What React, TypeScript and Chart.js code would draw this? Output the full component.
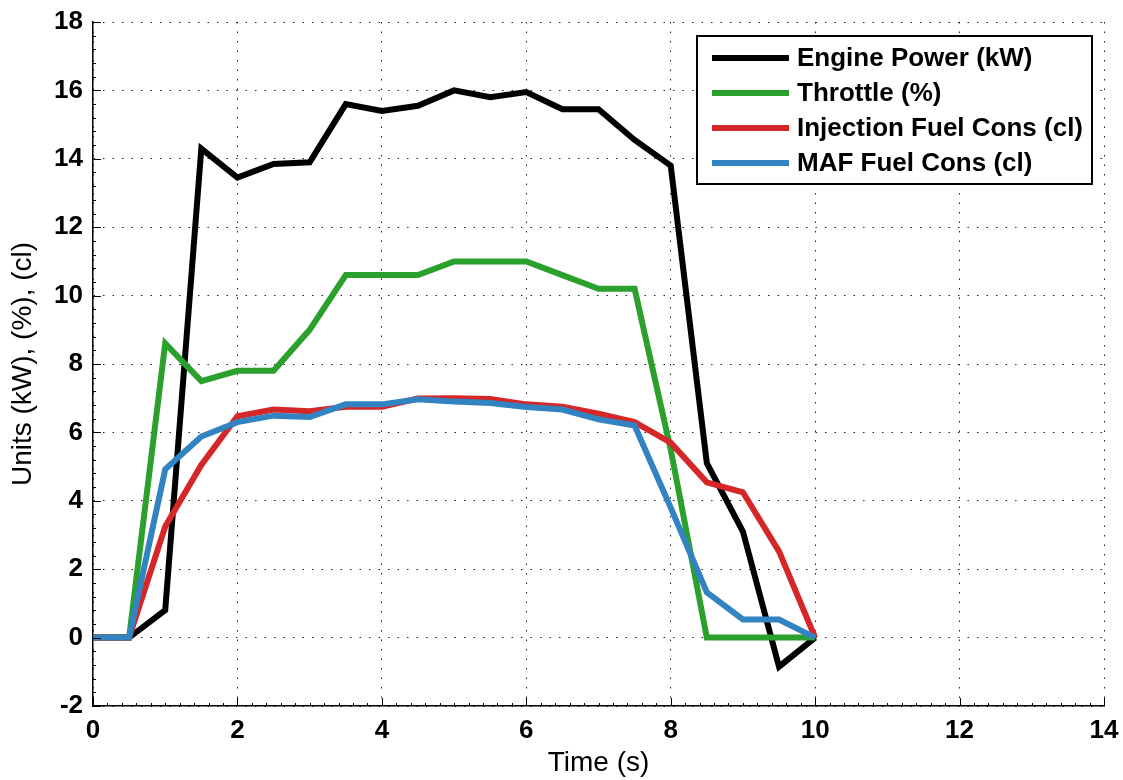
import React, { useEffect, useRef } from "react";
import Chart from "chart.js/auto";

// Sample times (s)
const timeS = [0, 0.5, 1, 1.5, 2, 2.5, 3, 3.5, 4, 4.5, 5, 5.5, 6, 6.5, 7, 7.5, 8, 8.5, 9, 9.5, 10];

// Series values
const enginePowerKW = [0, 0, 0.8, 14.3, 13.45, 13.85, 13.9, 15.6, 15.4, 15.55, 16.0, 15.8, 15.95, 15.45, 15.45, 14.55, 13.8, 5.1, 3.1, -0.85, 0];
const throttlePct = [0, 0, 8.6, 7.5, 7.8, 7.8, 9.0, 10.6, 10.6, 10.6, 11.0, 11.0, 11.0, 10.6, 10.2, 10.2, 5.5, 0, 0, 0, 0];
const injectionFuelCl = [0, 0, 3.25, 5.05, 6.47, 6.67, 6.62, 6.75, 6.75, 6.99, 7.0, 6.98, 6.82, 6.75, 6.55, 6.3, 5.7, 4.54, 4.25, 2.52, 0];
const mafFuelCl = [0, 0, 4.92, 5.88, 6.3, 6.49, 6.45, 6.82, 6.82, 6.97, 6.9, 6.86, 6.74, 6.67, 6.38, 6.2, 3.8, 1.32, 0.53, 0.53, 0];

const seriesLabels = ["Engine Power (kW)", "Throttle (%)", "Injection Fuel Cons (cl)", "MAF Fuel Cons (cl)"];
const seriesColors = ["#000000", "#2ca02c", "#d62728", "#3283c2"];

// Axis ranges
const xRange = [0, 14];
const yRange = [-2, 18];
const xMajorStep = 2;
const yMajorStep = 2;
const xMinorPerMajor = 10;
const yMinorPerMajor = 5;

const FONT = "'Liberation Sans', Arial, Helvetica, sans-serif";

const toPoints = (ys: number[]) => ys.map((y, i) => ({ x: timeS[i], y }));

// Inward major/minor tick marks on the left and bottom axes
const axisTicksPlugin = {
  id: "axisTicks",
  afterDatasetsDraw(chart: any) {
    const { ctx, chartArea, scales } = chart;
    const xs = scales.x;
    const ys = scales.y;
    ctx.save();
    ctx.strokeStyle = "#000";
    ctx.lineWidth = 1;
    const nX = ((xRange[1] - xRange[0]) / xMajorStep) * xMinorPerMajor;
    for (let i = 0; i <= nX; i++) {
      const v = xRange[0] + (i * xMajorStep) / xMinorPerMajor;
      const px = Math.round(xs.getPixelForValue(v)) + 0.5;
      const len = i % xMinorPerMajor === 0 ? 8 : 3;
      ctx.beginPath();
      ctx.moveTo(px, chartArea.bottom);
      ctx.lineTo(px, chartArea.bottom - len);
      ctx.stroke();
    }
    const nY = ((yRange[1] - yRange[0]) / yMajorStep) * yMinorPerMajor;
    for (let i = 0; i <= nY; i++) {
      const v = yRange[0] + (i * yMajorStep) / yMinorPerMajor;
      const py = Math.round(ys.getPixelForValue(v)) + 0.5;
      const len = i % yMinorPerMajor === 0 ? 8 : 3;
      ctx.beginPath();
      ctx.moveTo(chartArea.left, py);
      ctx.lineTo(chartArea.left + len, py);
      ctx.stroke();
    }
    ctx.restore();
  },
};

// Boxed legend inside the upper-right corner of the plot area
const boxLegendPlugin = {
  id: "boxLegend",
  afterDraw(chart: any) {
    const { ctx, chartArea } = chart;
    const boxW = 395;
    const rowH = 35;
    const boxH = 148;
    const right = chartArea.right - 12;
    const left = right - boxW;
    const top = chartArea.top + 14;
    ctx.save();
    ctx.fillStyle = "#ffffff";
    ctx.fillRect(left, top, boxW, boxH);
    ctx.strokeStyle = "#000";
    ctx.lineWidth = 2;
    ctx.strokeRect(left, top, boxW, boxH);
    ctx.font = `bold 26px ${FONT}`;
    ctx.textBaseline = "middle";
    ctx.textAlign = "left";
    seriesLabels.forEach((label, i) => {
      const y = top + 22 + i * rowH;
      ctx.strokeStyle = seriesColors[i];
      ctx.lineWidth = 6;
      ctx.beginPath();
      ctx.moveTo(left + 15, y);
      ctx.lineTo(left + 92, y);
      ctx.stroke();
      ctx.fillStyle = "#000";
      ctx.fillText(label, left + 100, y + 1);
    });
    ctx.restore();
  },
};

export default function App() {
  const canvasRef = useRef<HTMLCanvasElement | null>(null);

  useEffect(() => {
    const canvas = canvasRef.current;
    if (!canvas) return;
    const allSeries = [enginePowerKW, throttlePct, injectionFuelCl, mafFuelCl];
    const chart = new Chart(canvas, {
      type: "line",
      data: {
        datasets: allSeries.map((vals, i) => ({
          label: seriesLabels[i],
          data: toPoints(vals),
          borderColor: seriesColors[i],
          backgroundColor: seriesColors[i],
          borderWidth: 6,
          pointRadius: 0,
          tension: 0,
          fill: false,
          borderJoinStyle: "miter" as const,
          borderCapStyle: "butt" as const,
          order: allSeries.length - i,
        })),
      },
      options: {
        animation: false,
        responsive: false,
        devicePixelRatio: 1,
        layout: { padding: { top: 22, right: 19, left: 0, bottom: 0 } },
        plugins: {
          legend: { display: false },
          tooltip: { enabled: false },
        },
        scales: {
          x: {
            type: "linear",
            min: xRange[0],
            max: xRange[1],
            afterFit: (scale: any) => {
              scale.height = 74;
              scale.paddingLeft = 0;
              scale.paddingRight = 0;
            },
            ticks: {
              stepSize: xMajorStep,
              color: "#000",
              padding: 9,
              maxRotation: 0,
              font: { family: FONT, size: 26, weight: "bold" },
              callback: (v: any) => String(v),
            },
            grid: {
              color: "#222",
              lineWidth: 1,
              drawTicks: false,
            },
            border: { display: true, color: "#000", width: 1.5, dash: [1.5, 8] },
            title: {
              display: true,
              text: "Time (s)",
              color: "#000",
              font: { family: FONT, size: 28, weight: "normal" },
              padding: { top: 0, bottom: 0 },
            },
          },
          y: {
            type: "linear",
            min: yRange[0],
            max: yRange[1],
            afterFit: (scale: any) => {
              scale.width = 93;
              scale.paddingTop = 0;
              scale.paddingBottom = 0;
            },
            ticks: {
              stepSize: yMajorStep,
              color: "#000",
              padding: 10,
              font: { family: FONT, size: 26, weight: "bold" },
              callback: (v: any) => String(v),
            },
            grid: {
              color: "#222",
              lineWidth: 1,
              drawTicks: false,
            },
            border: { display: true, color: "#000", width: 1.5, dash: [1.5, 8] },
            title: {
              display: true,
              text: "Units (kW), (%), (cl)",
              color: "#000",
              font: { family: FONT, size: 28, weight: "normal" },
              padding: { top: 6, bottom: 0 },
            },
          },
        },
      },
      plugins: [axisTicksPlugin, boxLegendPlugin],
    });
    return () => chart.destroy();
  }, []);

  return (
    <div style={{ position: "absolute", left: 0, top: 0, width: 1123, height: 780, background: "#fff" }}>
      <canvas ref={canvasRef} width={1123} height={780} style={{ display: "block" }} />
    </div>
  );
}
